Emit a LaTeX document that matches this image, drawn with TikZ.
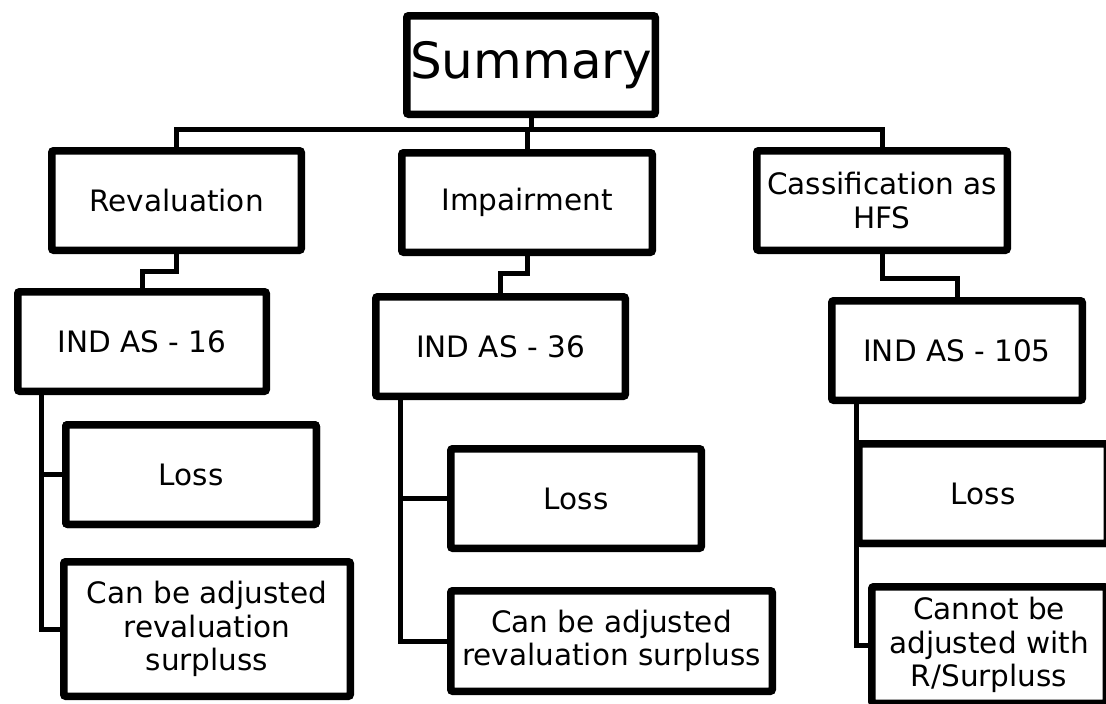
\documentclass[tikz,border=0pt]{standalone}
\usepackage{fontspec}
\setmainfont{DejaVu Sans}
\usetikzlibrary{shadows}
\begin{document}
\begin{tikzpicture}[x=1pt,y=-1pt,
  tbox/.style={draw=black, line width=7.5pt, rounded corners=2pt, fill=white,
    inner sep=0pt, align=center, font=\fontsize{29.5}{33.5}\selectfont,
    drop shadow={opacity=0.18, shadow xshift=1.5pt, shadow yshift=-3pt}},
  conn/.style={draw=black, line width=5pt}]
\useasboundingbox (0,0) rectangle (1106,704);
\clip (0,0) rectangle (1106,704);
\fill[white] (0,0) rectangle (1106,704);

% top level
\node[tbox, minimum width=248.5, minimum height=98.5, font=\fontsize{50}{58}\selectfont] (sum) at (531,65) {Summary};
\node[tbox, minimum width=249.5, minimum height=99.5] (rev) at (176.5,200.5) {Revaluation};
\node[tbox, minimum width=250.5, minimum height=99.5] (imp) at (527,202.5) {Impairment};
\node[tbox, minimum width=250.5, minimum height=99.5] (cas) at (882,200.5) {Cassification as\\HFS};

% standards
\node[tbox, minimum width=248.5, minimum height=99.5] (i16) at (142,341.5) {IND AS - 16};
\node[tbox, minimum width=249.5, minimum height=99.5] (i36) at (500.5,346.5) {IND AS - 36};
\node[tbox, minimum width=250.5, minimum height=99.5] (i105) at (957,350.5) {IND AS - 105};

% leaves
\node[tbox, minimum width=250.5, minimum height=99.5] (lossL) at (191,474.5) {Loss};
\node[tbox, minimum width=286.5, minimum height=134.5] (canL) at (207,629) {Can be adjusted\\revaluation\\surpluss};
\node[tbox, minimum width=250.5, minimum height=99.5] (lossM) at (576,498.5) {Loss};
\node[tbox, minimum width=321.5, minimum height=100.5] (canM) at (611.5,641) {Can be adjusted\\revaluation surpluss};
\node[tbox, minimum width=248.5, minimum height=99.5] (lossR) at (983,493.5) {Loss};
\node[tbox, minimum width=234.5, minimum height=116.5] (canR) at (989,645) {Cannot be\\adjusted with\\R/Surpluss};

% bus from summary
\coordinate (bus) at (0,129);
\draw[conn] (sum.south) -- (sum.south |- bus);
\draw[conn] (rev.north) -- (rev.north |- bus) -- (cas.north |- bus) -- (cas.north);
\draw[conn] (imp.north) -- (imp.north |- bus);

% to standards
\draw[conn] (rev.south) -- ++(0,17) -| (i16.north);
\draw[conn] (imp.south) -- ++(0,17) -| (i36.north);
\draw[conn] (cas.south) -- ++(0,24) -| (i105.north);

% to leaves
\coordinate (t16) at ([xshift=27pt]i16.south west);
\coordinate (t36) at ([xshift=28pt]i36.south west);
\coordinate (t105) at ([xshift=28pt]i105.south west);
\draw[conn] (t16) |- (lossL.west);
\draw[conn] (t16) |- (canL.west);
\draw[conn] (t36) |- (lossM.west);
\draw[conn] (t36) |- (canM.west);
\draw[conn] (t105) |- (canR.west);

% Loss boxes whose borders lie over the connectors
\node[tbox, minimum width=250.5, minimum height=99.5] at (191,474.5) {Loss};
\node[tbox, minimum width=248.5, minimum height=99.5] at (983,493.5) {Loss};
\end{tikzpicture}
\end{document}
